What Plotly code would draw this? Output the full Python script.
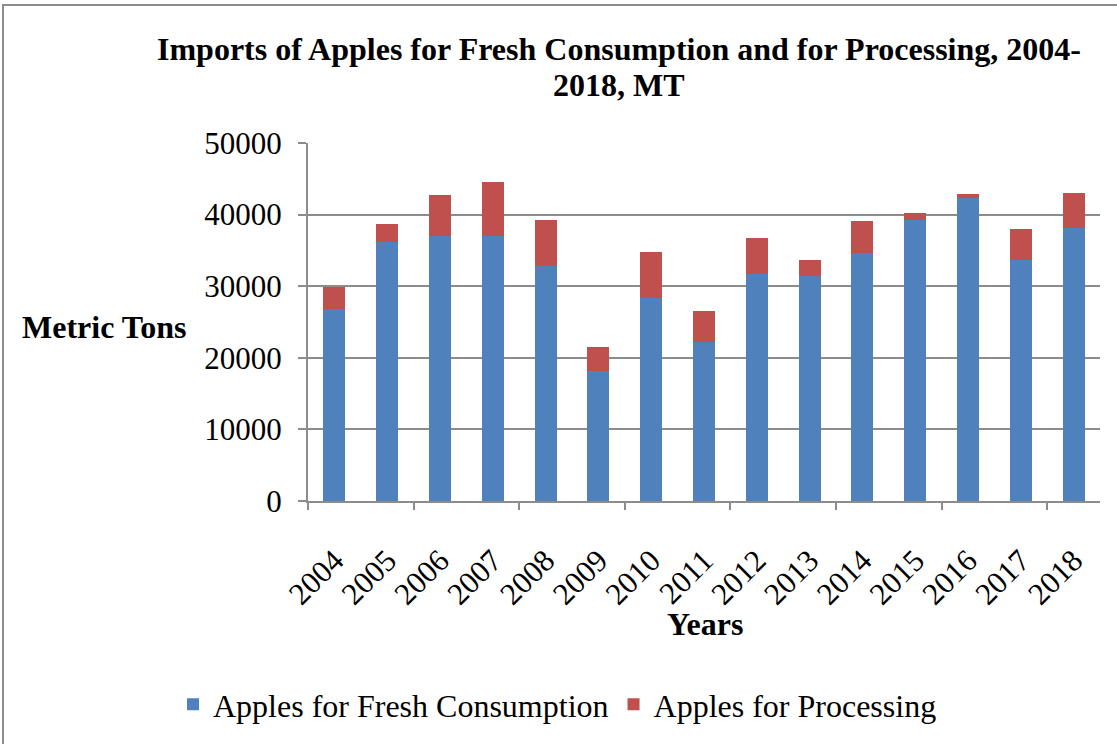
import plotly.graph_objects as go

years = ["2004", "2005", "2006", "2007", "2008", "2009", "2010", "2011",
         "2012", "2013", "2014", "2015", "2016", "2017", "2018"]
fresh = [26750, 36140, 37060, 36970, 32830, 18190, 28410, 22150,
         31720, 31450, 34580, 39270, 42310, 33660, 38080]
processing = [3130, 2580, 5670, 7550, 6440, 3260, 6300, 4320,
              4970, 2160, 4550, 970, 550, 4280, 4970]
y_ticks = [0, 10000, 20000, 30000, 40000, 50000]
y_tick_text = ["0", "10000", "20000", "30000", "40000", "50000"]

BLUE = "#4F81BD"
RED = "#C0504D"
GRID = "#8C8C8C"
SERIF = "Liberation Serif"

xpos = list(range(len(years)))

fig = go.Figure()
fig.add_trace(go.Bar(x=xpos, y=fresh, name="Apples for Fresh Consumption",
                     marker=dict(color=BLUE, line=dict(width=0))))
fig.add_trace(go.Bar(x=xpos, y=processing, name="Apples for Processing",
                     marker=dict(color=RED, line=dict(width=0))))

# invisible helper trace carrying the axis with boundary tick marks
fig.add_trace(go.Scatter(x=[-0.5, 14.5], y=[0, 0], xaxis="x2", mode="lines",
                         line=dict(width=0), showlegend=False, hoverinfo="skip"))

L, R, T, B = 308, 17, 143, 235
W, H = 1117, 744
pw, ph = W - L - R, H - T - B

def px(xp):
    return (xp - L) / pw

def py(yp):
    return (H - B - yp) / ph

fig.update_layout(
    width=W, height=H,
    barmode="stack", bargap=0.58,
    margin=dict(l=L, r=R, t=T, b=B),
    paper_bgcolor="white", plot_bgcolor="white",
    font=dict(family=SERIF, color="black"),
    showlegend=True,
    legend=dict(orientation="h", x=0.315, y=py(717), xanchor="center", yanchor="middle",
                font=dict(family=SERIF, size=32, color="black"),
                traceorder="normal", tracegroupgap=0),
    xaxis=dict(range=[-0.5, 14.5], tickmode="array", tickvals=xpos, ticktext=years,
               tickangle=-45, ticks="", showgrid=False, zeroline=False,
               showline=True, linecolor=GRID, linewidth=2, ticklabelstandoff=27,
               tickfont=dict(family=SERIF, size=31, color="black")),
    xaxis2=dict(overlaying="x", range=[-0.5, 14.5], tickmode="array",
                tickvals=[-0.5, 1.5, 3.5, 5.5, 7.5, 9.5, 11.5, 13.5],
                ticks="outside", ticklen=8, tickwidth=2, tickcolor=GRID,
                showticklabels=False, showgrid=False, zeroline=False, showline=False,
                side="bottom"),
    yaxis=dict(range=[0, 50000], tickmode="array", tickvals=y_ticks, ticktext=y_tick_text,
               ticks="outside", ticklen=8, tickwidth=2, tickcolor=GRID,
               showgrid=True, gridcolor=GRID, gridwidth=2, ticklabelstandoff=10,
               showline=True, linecolor=GRID, linewidth=2, zeroline=False,
               tickfont=dict(family=SERIF, size=31, color="black")),
    annotations=[
        dict(text="<b>Imports of Apples for Fresh Consumption and for Processing, 2004-</b>",
             xref="paper", yref="paper", x=px(619), y=py(47), xanchor="center", yanchor="middle",
             showarrow=False, font=dict(family=SERIF, size=32, color="black")),
        dict(text="<b>2018, MT</b>",
             xref="paper", yref="paper", x=px(619), y=py(84), xanchor="center", yanchor="middle",
             showarrow=False, font=dict(family=SERIF, size=32, color="black")),
        dict(text="<b>Metric Tons</b>", xref="paper", yref="paper",
             x=px(104), y=py(331), xanchor="center", yanchor="middle",
             showarrow=False, font=dict(family=SERIF, size=32, color="black")),
        dict(text="<b>Years</b>", xref="paper", yref="paper",
             x=px(705), y=py(635), xanchor="center", yanchor="middle",
             showarrow=False, font=dict(family=SERIF, size=32, color="black")),
    ],
    shapes=[
        dict(type="rect", xref="paper", yref="paper",
             x0=px(3), x1=px(1130), y0=py(760), y1=py(2),
             line=dict(color="#8C8C8C", width=2), fillcolor="rgba(0,0,0,0)", layer="below"),
    ],
)

fig.write_html("out.html", config={"displayModeBar": False},
               post_script="document.body.style.margin='0px';document.body.style.overflow='hidden';")
